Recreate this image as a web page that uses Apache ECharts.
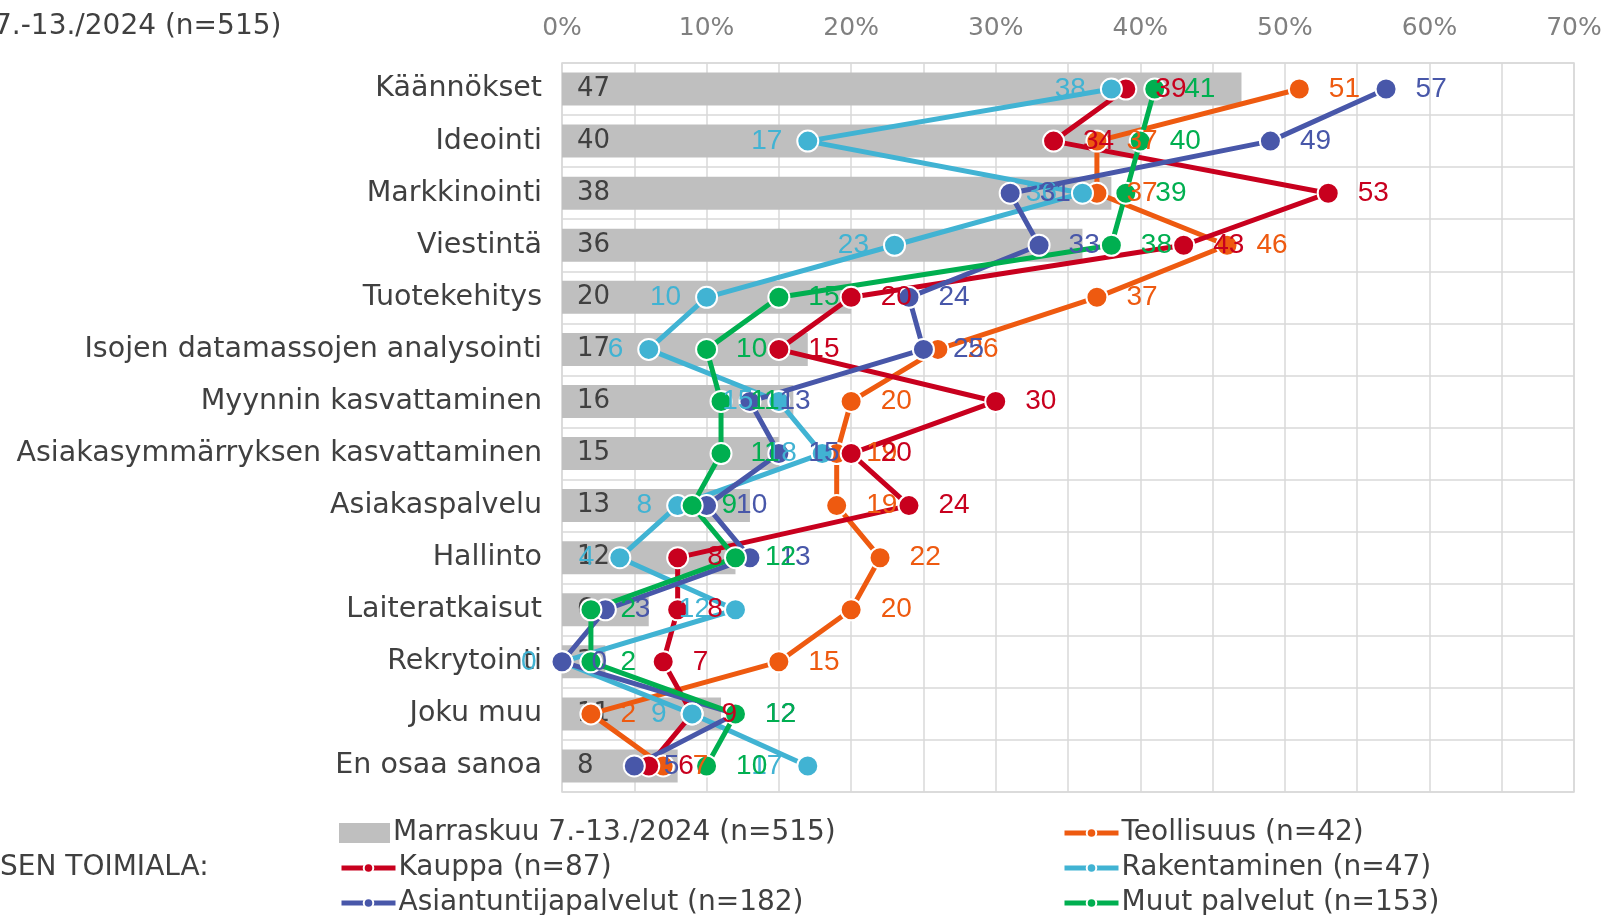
<!DOCTYPE html>
<html><head><meta charset="utf-8">
<script src="https://cdn.jsdelivr.net/npm/echarts@6/dist/echarts.min.js"></script>
<style>html,body{margin:0;padding:0;background:#fff}#c{width:1609px;height:915px}</style>
</head><body><div id="c"></div>
<script>
const categories = ['Käännökset','Ideointi','Markkinointi','Viestintä','Tuotekehitys','Isojen datamassojen analysointi','Myynnin kasvattaminen','Asiakasymmärryksen kasvattaminen','Asiakaspalvelu','Hallinto','Laiteratkaisut','Rekrytointi','Joku muu','En osaa sanoa'];
const marraskuu    = [47,40,38,36,20,17,16,15,13,12,6,3,11,8];
const teollisuus   = [51,37,37,46,37,26,20,19,19,22,20,15,2,7];
const kauppa       = [39,34,53,43,20,15,30,20,24,8,8,7,9,6];
const rakentaminen = [38,17,36,23,10,6,15,18,8,4,12,0,9,17];
const asiantuntija = [57,49,31,33,24,25,13,15,10,13,3,0,12,5];
const muut         = [41,40,39,38,15,10,11,11,9,12,2,2,12,10];
const names = ['Marraskuu 7.-13./2024 (n=515)','Teollisuus (n=42)','Kauppa (n=87)','Rakentaminen (n=47)','Asiantuntijapalvelut (n=182)','Muut palvelut (n=153)'];
const titleText = '7.-13./2024 (n=515)';
const groupText = 'SEN TOIMIALA:';

const F = 'DejaVu Sans';
const TXT = '#404040';
const colors = {teol:'#EE5A10', kaup:'#C8001E', rak:'#41B3D3', asi:'#4857A9', muut:'#00AF50'};

function lineSeries(name, data, color, pos, dist) {
  return {
    name, type:'line', data, symbol:'circle', symbolSize:21, showAllSymbol:true,
    lineStyle:{color, width:5}, itemStyle:{color, borderColor:'#fff', borderWidth:2},
    label:{show:true, position:pos, distance:dist, color, fontFamily:'Liberation Sans', fontSize:28},
    emphasis:{disabled:true}
  };
}
function legendItem(name, left, top, isBar) {
  const o = {data:[name], left, top, itemWidth:isBar ? 51 : 54, itemHeight:isBar ? 20 : 12, itemGap:0,
    textStyle:{color:TXT, fontFamily:F, fontSize:28, padding:[0,0,0,-2]}, selectedMode:false};
  if (isBar) o.icon = 'rect'; else o.lineStyle = {width:5};
  return o;
}

const chart = echarts.init(document.getElementById('c'), null, {renderer:'canvas'});
chart.setOption({
  animation:false,
  backgroundColor:'#fff',
  grid:{left:562, right:35, top:63, bottom:123, show:true, borderColor:'#D9D9D9', borderWidth:1.5},
  xAxis:{type:'value', position:'top', min:0, max:70, interval:5,
    axisLine:{show:false}, axisTick:{show:false},
    splitLine:{show:true, lineStyle:{color:'#D9D9D9', width:1.5}},
    axisLabel:{color:'#808080', fontFamily:F, fontSize:25, margin:22,
      formatter:v => (v % 10 === 0 ? v + '%' : '')}},
  yAxis:{type:'category', data:categories, inverse:true,
    axisLine:{show:false}, axisTick:{show:false},
    splitLine:{show:true, interval:0, lineStyle:{color:'#D9D9D9', width:1.5}},
    axisLabel:{color:TXT, fontFamily:F, fontSize:28.5, margin:20, interval:0, padding:[4,0,0,0]}},
  legend:[
    legendItem(names[0], 334, 814, true),
    legendItem(names[2], 334, 849, false),
    legendItem(names[4], 334, 884, false),
    legendItem(names[1], 1057, 814, false),
    legendItem(names[3], 1057, 849, false),
    legendItem(names[5], 1057, 884, false)
  ],
  graphic:[
    {type:'text', left:-6, top:13, style:{text:titleText, fill:TXT, font:'28px "DejaVu Sans"'}},
    {type:'text', left:0, top:854, style:{text:groupText, fill:TXT, font:'28px "DejaVu Sans"'}}
  ],
  series:[
    {name:names[0], type:'bar', data:marraskuu, barWidth:33, itemStyle:{color:'#BFBFBF'},
      label:{show:true, position:'insideLeft', distance:15, color:TXT, fontFamily:F, fontSize:26, padding:[4,0,0,0]},
      emphasis:{disabled:true}},
    lineSeries(names[1], teollisuus, colors.teol, 'right', 18),
    lineSeries(names[2], kauppa, colors.kaup, 'right', 18),
    lineSeries(names[3], rakentaminen, colors.rak, 'left', 14),
    lineSeries(names[4], asiantuntija, colors.asi, 'right', 18),
    lineSeries(names[5], muut, colors.muut, 'right', 18)
  ]
});
</script></body></html>
